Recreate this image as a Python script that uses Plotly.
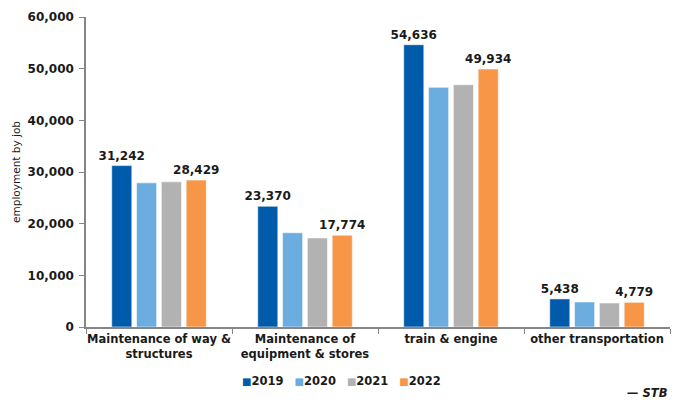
import plotly.graph_objects as go

# Railroad employment by job category, 2019-2022
categories = [
    "Maintenance of way &<br>structures",
    "Maintenance of<br>equipment & stores",
    "train & engine",
    "other transportation",
]
years = ["2019", "2020", "2021", "2022"]
values = {
    "2019": [31242, 23370, 54636, 5438],
    "2020": [27900, 18250, 46390, 4840],
    "2021": [28100, 17230, 46900, 4650],
    "2022": [28429, 17774, 49934, 4779],
}
colors = {
    "2019": "#005BAA",
    "2020": "#6CADDF",
    "2021": "#B2B2B2",
    "2022": "#F79646",
}
labeled_years = {"2019", "2022"}

FONT = "DejaVu Sans"
INK = "#1a1a1a"

fig = go.Figure()
for yr in years:
    show = yr in labeled_years
    fig.add_trace(go.Bar(
        name=yr,
        x=categories,
        y=values[yr],
        marker=dict(color=colors[yr], line=dict(color="rgba(255,255,255,0.55)", width=1)),
        texttemplate="<b>%{y:,}</b>" if show else None,
        textposition="outside" if show else "none",
        constraintext="none",
        textfont=dict(family=FONT, size=12, color=INK),
        cliponaxis=False,
        showlegend=False,
    ))

fig.update_layout(
    width=675,
    height=400,
    margin=dict(l=86, r=5, t=17, b=73, autoexpand=False),
    paper_bgcolor="white",
    plot_bgcolor="white",
    barmode="group",
    bargap=0.32,
    bargroupgap=0.19,
    font=dict(family=FONT, size=11, color=INK),
    showlegend=False,
)

fig.update_yaxes(
    range=[0, 60000],
    dtick=10000,
    tickformat=",",
    tickprefix="<b>", ticksuffix="</b>",
    tickfont=dict(family=FONT, size=12, color=INK),
    ticklabelstandoff=3,
    showgrid=False,
    showline=True,
    linecolor="#868686",
    linewidth=1.5,
    ticks="outside",
    ticklen=5,
    tickcolor="#868686",
    zeroline=False,
    automargin=False,
)

fig.update_xaxes(
    tickfont=dict(family=FONT, size=11.5, color=INK),
    tickprefix="<b>", ticksuffix="</b>",
    tickangle=0,
    showline=True,
    linecolor="#868686",
    linewidth=2,
    ticks="outside",
    tickson="boundaries",
    ticklen=5,
    tickcolor="#868686",
    showgrid=False,
    automargin=False,
)

# Y-axis title
fig.add_annotation(
    text="employment by job",
    textangle=-90,
    xref="paper", yref="paper",
    x=-0.12, y=0.5,
    xanchor="center", yanchor="middle",
    showarrow=False,
    font=dict(family=FONT, size=10.5, color=INK),
)

# Compact legend: colored square + year, one entry per series
legend_text = "&nbsp;&nbsp;&nbsp;".join(
    f"<span style='color:{colors[yr]};font-size:10px'>■</span><b>{yr}</b>" for yr in years
)
fig.add_annotation(
    text=legend_text,
    xref="paper", yref="paper",
    x=0.437, y=-0.174,
    xanchor="center", yanchor="middle",
    showarrow=False,
    font=dict(family=FONT, size=11.5, color=INK),
)

# Source note
fig.add_annotation(
    text="<b><i>— STB</i></b>",
    xref="paper", yref="paper",
    x=1.0, y=-0.213,
    xanchor="right", yanchor="middle",
    showarrow=False,
    font=dict(family=FONT, size=11.5, color=INK),
)

fig.write_html("out.html")
